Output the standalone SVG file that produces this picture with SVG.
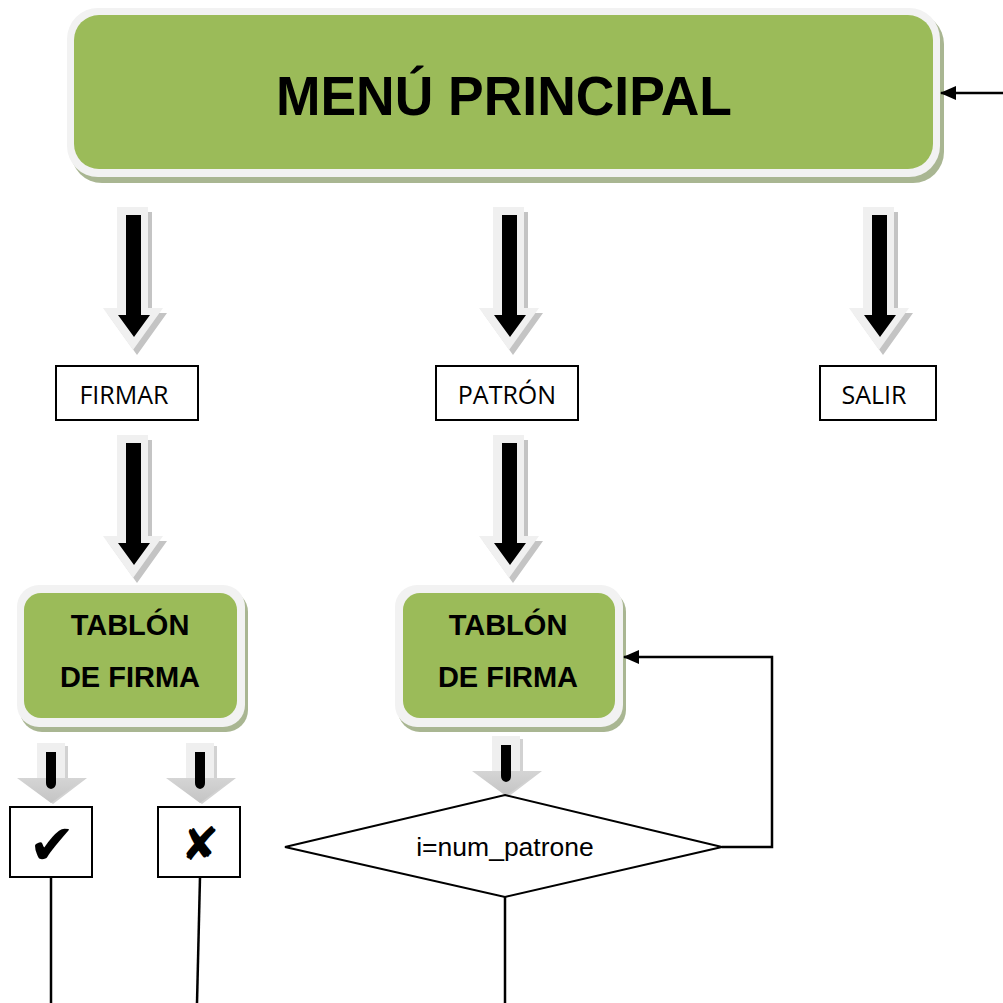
<svg xmlns="http://www.w3.org/2000/svg" width="1003" height="1003" viewBox="0 0 1003 1003">
  <style>
    .frame { fill: #f2f2f2; }
    .shadow { fill: #a9b692; }
    .panel { fill: #9bbb59; }
    .title { font-family: "Liberation Sans", Arial, sans-serif; font-weight: bold; fill: #000; text-anchor: middle; }
    .label { font-family: "Open Sans", "Liberation Sans", sans-serif; font-size: 25px; fill: #000; text-anchor: middle; }
    .box { fill: #fff; stroke: #000; stroke-width: 2; }
    .line { fill: none; stroke: #000; stroke-width: 2.5; }
    .cond { font-family: "Liberation Sans", Arial, sans-serif; font-size: 26.5px; fill: #000; text-anchor: middle; }
    .mark { font-family: "DejaVu Sans", sans-serif; fill: #000; text-anchor: middle; }
  </style>
  <defs>
    <!-- large block arrow: light outline, drop shadow, black core -->
    <g id="bigArrow">
      <path d="M-12,5 H19 V106 H34 L4,148 L-26,106 H-12 Z" fill="#c4c4c4"/>
      <path d="M-16,0 H15 V101 H30 L0,143 L-30,101 H-16 Z" fill="#f0f0f0"/>
      <path d="M-7,8 H8 V108 H17 L1,130 L-15,108 H-7 Z" fill="#000"/>
    </g>
    <!-- short block arrow -->
    <linearGradient id="headShade" x1="0" y1="0" x2="0" y2="1">
      <stop offset="0" stop-color="#ececec"/>
      <stop offset="1" stop-color="#c4c4c4"/>
    </linearGradient>
    <g id="smallArrow">
      <path d="M-11,3 H17 V35 H36 L2,61 L-32,35 H-11 Z" fill="#d2d2d2"/>
      <path d="M-14,0 H14 V35 H34 L0,60 L-34,35 H-14 Z" fill="url(#headShade)"/>
      <path d="M-14,0 H14 V35 H-14 Z" fill="#efefef"/>
      <path d="M-5,9 H5 V40 Q5,45 0,46 Q-5,45 -5,40 Z" fill="#000"/>
    </g>
    <marker id="arrowHead" markerWidth="16" markerHeight="14" refX="15" refY="7" orient="auto" markerUnits="userSpaceOnUse">
      <path d="M0,0 L16,7 L0,14 Z" fill="#000"/>
    </marker>
  </defs>

  <rect width="1003" height="1003" fill="#fff"/>

  <!-- main menu panel -->
  <g id="menu-principal">
    <rect class="shadow" x="71" y="13" width="873" height="170" rx="31"/>
    <rect class="frame" x="67" y="8" width="873" height="169" rx="31"/>
    <rect class="panel" x="74" y="15" width="859" height="154" rx="25"/>
    <text class="title" x="504" y="115" font-size="56" textLength="456" lengthAdjust="spacingAndGlyphs">MENÚ PRINCIPAL</text>
  </g>

  <!-- block arrows -->
  <g id="block-arrows">
    <use href="#bigArrow" transform="translate(133,207)"/>
    <use href="#bigArrow" transform="translate(509,207)"/>
    <use href="#bigArrow" transform="translate(879,207)"/>
    <use href="#bigArrow" transform="translate(133,435)"/>
    <use href="#bigArrow" transform="translate(509,435)"/>
    <use href="#smallArrow" transform="translate(51,743)"/>
    <use href="#smallArrow" transform="translate(200,743)"/>
    <use href="#smallArrow" transform="translate(506,736)"/>
  </g>

  <g id="firmar">
    <rect class="box" x="56" y="366" width="142" height="54"/>
    <text class="label" x="124" y="404">FIRMAR</text>
  </g>
  <g id="patron">
    <rect class="box" x="436" y="366" width="142" height="54"/>
    <text class="label" x="507" y="404">PATRÓN</text>
  </g>
  <g id="salir">
    <rect class="box" x="820" y="366" width="116" height="54"/>
    <text class="label" x="874" y="404">SALIR</text>
  </g>

  <g id="tablon-firma-1">
    <rect class="shadow" x="20" y="590" width="228" height="142" rx="22"/>
    <rect class="frame" x="17" y="585" width="228" height="142" rx="22"/>
    <rect class="panel" x="24" y="593" width="213" height="125" rx="17"/>
    <text class="title" x="130" y="635" font-size="29">TABLÓN</text>
    <text class="title" x="130" y="687" font-size="29">DE FIRMA</text>
  </g>
  <g id="tablon-firma-2">
    <rect class="shadow" x="398" y="590" width="228" height="142" rx="22"/>
    <rect class="frame" x="395" y="585" width="228" height="142" rx="22"/>
    <rect class="panel" x="403" y="593" width="212" height="125" rx="17"/>
    <text class="title" x="508" y="635" font-size="29">TABLÓN</text>
    <text class="title" x="508" y="687" font-size="29">DE FIRMA</text>
  </g>

  <g id="aceptar">
    <rect class="box" x="10" y="807" width="82" height="70"/>
    <text class="mark" x="52" y="864" font-size="56">✔</text>
  </g>
  <g id="rechazar">
    <rect class="box" x="158" y="807" width="82" height="70"/>
    <text class="mark" x="200" y="860" font-size="46">✘</text>
  </g>

  <g id="condicion">
    <path class="box" d="M505,795 L722,847 L505,897 L285,847 Z"/>
    <text class="cond" x="505" y="856">i=num_patrone</text>
  </g>

  <!-- connectors -->
  <g id="connectors">
    <path class="line" d="M1003,93 H941" marker-end="url(#arrowHead)"/>
    <path class="line" d="M722,847 H772 V657 H624" marker-end="url(#arrowHead)"/>
    <path class="line" d="M51,877 V1003"/>
    <path class="line" d="M200,877 L197,1003"/>
    <path class="line" d="M505,897 V1003"/>
  </g>
</svg>
